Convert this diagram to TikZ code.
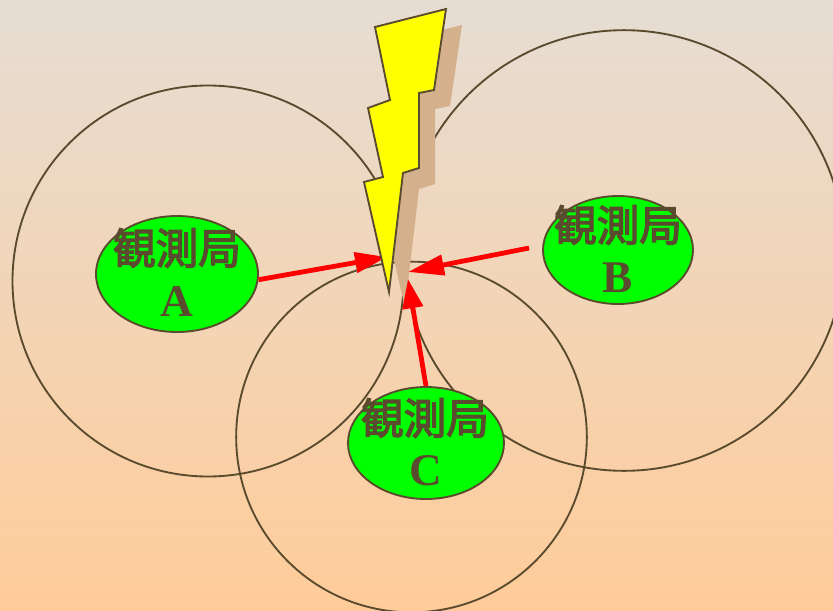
\documentclass[tikz,border=0pt]{standalone}
\usepackage{fontspec}
\usepackage{tikz}
\usetikzlibrary{positioning,shapes.geometric,arrows.meta}
\setmainfont{Liberation Serif}
\newfontfamily\cjk{Noto Sans CJK JP}[BoldFont={Noto Sans CJK JP},BoldFeatures={FakeBold=3}]
\definecolor{ink}     {HTML}{5A4A2E}
\definecolor{bgtop}   {HTML}{E6DDD3}
\definecolor{bgbottom}{HTML}{FFCC99}
\definecolor{station} {HTML}{00FF00}
\definecolor{bolt}    {HTML}{FFFF00}
\definecolor{boltdark}{HTML}{D5B08C}
\tikzset{
  % --- nodes
  reach/.style  = {circle, draw=ink, line width=1.4pt, inner sep=0pt},
  kyoku/.style  = {ellipse, draw=ink, fill=station, line width=1.4pt, inner sep=0pt},
  kname/.style  = {font=\cjk\fontsize{32}{34}\bfseries\selectfont, text=ink, inner sep=0pt},
  kmark/.style  = {font=\fontsize{34}{36}\bfseries\selectfont, text=ink, inner sep=0pt},
  % --- edges
  ray/.style    = {-{Triangle[length=#1,width=15pt]}, red, line width=3.6pt},
}
\begin{document}
\begin{tikzpicture}[x=0.75pt,y=-0.75pt]
  \useasboundingbox (0,0) rectangle (833,611);
  \shade[top color=bgtop,bottom color=bgbottom] (0,0) rectangle (833,611);

  \node[reach,minimum size=293.25pt] (ra) at (208,281) {};
  \node[reach,minimum size=330.5pt] (rb) at (624,250.5) {};
  \node[reach,minimum size=263pt] (rc) at (411.5,437) {};

  % shadow of the bolt
  \fill[boltdark,shift={(16,16)}] (375,27)--(446,9)--(434,90)--(419,93)--(419,168)--(403,173)
    --(389,292)--(364,182)--(383,177)--(368,108)--(390,100)--cycle;

  \node[kyoku,minimum width=121.5pt,minimum height=87pt] (a) at (177,274) {};
  \node[kyoku,minimum width=112.5pt,minimum height=81pt] (b) at (618,250) {};
  \node[kyoku,minimum width=117pt,minimum height=84pt] (c) at (426,443) {};

  \node[kname] (an) at (177,248) {観測局};
  \node[kmark] (am) at (177,302) {A};
  \node[kname] (bn) at (618,225) {観測局};
  \node[kmark] (bm) at (618,278) {B};
  \node[kname] (cn) at (425,418) {観測局};
  \node[kmark] (cm) at (426,471) {C};

  \coordinate (hita) at (387,257);
  \coordinate (hitb) at (408,272);
  \coordinate (hitc) at (408,279);
  \coordinate (tailb) at (529,248);

  \draw[ray=24pt] (a.-4) -- (hita);
  \draw[ray=27pt] (tailb) -- (hitb);
  \draw[ray=22pt] (c.north) -- (hitc);

  \draw[draw=ink,fill=bolt,line width=1.4pt,line join=miter] (375,27)--(446,9)--(434,90)--(419,93)--(419,168)--(403,173)
    --(389,292)--(364,182)--(383,177)--(368,108)--(390,100)--cycle;
\end{tikzpicture}
\end{document}
